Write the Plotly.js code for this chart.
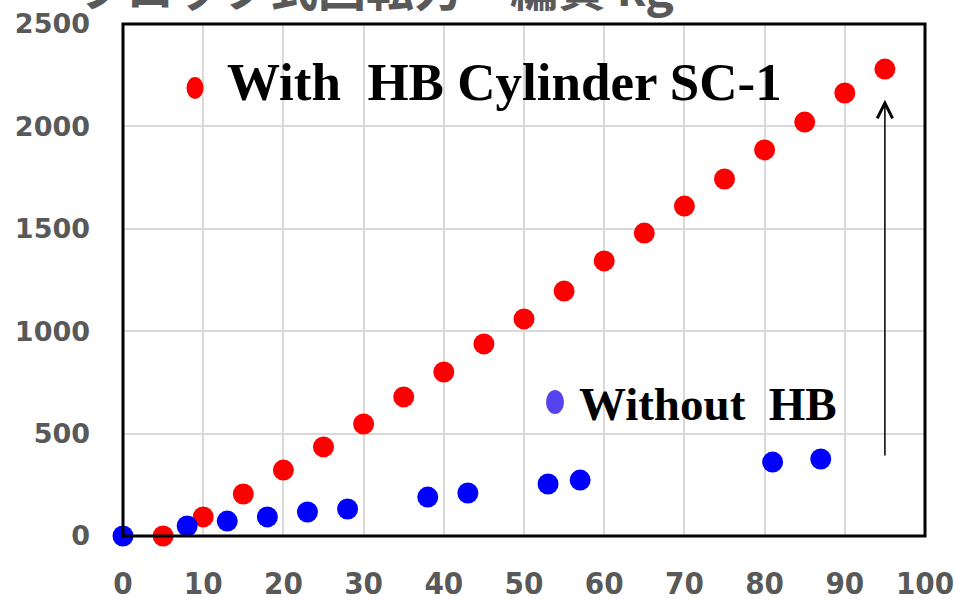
<!DOCTYPE html>
<html>
<head>
<meta charset="utf-8">
<script src="https://cdn.plot.ly/plotly-3.0.1.min.js"></script>
<style>html,body{margin:0;padding:0;background:#fff;}#chart{width:956px;height:600px;}</style>
</head>
<body>
<div id="chart"></div>
<script>
// Data
const withX = [5, 10, 15, 20, 25, 30, 35, 40, 45, 50, 55, 60, 65, 70, 75, 80, 85, 90, 95];
const withY = [0, 93, 205, 322, 435, 547, 679, 801, 938, 1060, 1196, 1343, 1479, 1611, 1743, 1885, 2021, 2163, 2280];
const withoutX = [0, 8, 13, 18, 23, 28, 38, 43, 53, 57, 81, 87];
const withoutY = [0, 49, 73, 93, 117, 132, 190, 210, 254, 273, 361, 376];
const xTicks = [0, 10, 20, 30, 40, 50, 60, 70, 80, 90, 100];
const yTicks = [0, 500, 1000, 1500, 2000, 2500];
const titleText = 'ブロック式回転力　編賀 kg';
const labelWith = 'With  HB Cylinder SC-1';
const labelWithout = 'Without  HB';

const traces = [
  {x: withX, y: withY, mode: 'markers', type: 'scatter', name: labelWith,
   marker: {color: '#ff0000', size: 21}, cliponaxis: false},
  {x: withoutX, y: withoutY, mode: 'markers', type: 'scatter', name: labelWithout,
   marker: {color: '#0000ff', size: 21}, cliponaxis: false}
];

const layout = {
  width: 956, height: 600,
  margin: {l: 123, r: 31, t: 24, b: 64},
  paper_bgcolor: '#ffffff', plot_bgcolor: '#ffffff',
  showlegend: false,
  xaxis: {
    range: [0, 100], tickvals: xTicks, ticktext: xTicks.map(String),
    showgrid: true, gridcolor: '#d9d9d9', gridwidth: 2, zeroline: false,
    showline: false, ticks: '', ticklabelstandoff: 26, ticklabeloverflow: 'allow',
    tickfont: {family: '"Liberation Sans Narrow", "DejaVu Sans Condensed", sans-serif', size: 31, color: '#595959', weight: 'bold'}
  },
  yaxis: {
    range: [0, 2500], tickvals: yTicks, ticktext: yTicks.map(String),
    showgrid: true, gridcolor: '#d9d9d9', gridwidth: 2, zeroline: false,
    showline: false, ticks: '', ticklabelstandoff: 32,
    tickfont: {family: '"DejaVu Sans", sans-serif', size: 27, color: '#595959', weight: 'bold'}
  },
  shapes: [
    {type: 'rect', xref: 'paper', yref: 'paper', x0: 0, x1: 1, y0: 0, y1: 1,
     line: {color: '#000000', width: 3}, layer: 'above'},
    {type: 'circle', xref: 'paper', yref: 'paper', x0: 0.0792, x1: 0.1004, y0: 0.8535, y1: 0.8965,
     fillcolor: '#ff0000', line: {width: 0}},
    {type: 'circle', xref: 'paper', yref: 'paper', x0: 0.5274, x1: 0.5499, y0: 0.2383, y1: 0.2852,
     fillcolor: '#5544ee', line: {width: 0}}
  ],
  annotations: [
    {xref: 'paper', yref: 'paper', x: -0.0586, y: 1.004, xanchor: 'left', yanchor: 'bottom',
     text: titleText, showarrow: false,
     font: {family: '"Noto Sans CJK JP", sans-serif', size: 48, color: '#595959', weight: 'bold'}},
    {xref: 'paper', yref: 'paper', x: 0.127, y: 0.887, xanchor: 'left', yanchor: 'middle',
     text: labelWith, showarrow: false,
     font: {family: '"Liberation Serif", "Times New Roman", serif', size: 53, color: '#000000', weight: 'bold'}},
    {xref: 'paper', yref: 'paper', x: 0.566, y: 0.258, xanchor: 'left', yanchor: 'middle',
     text: labelWithout, showarrow: false,
     font: {family: '"Liberation Serif", "Times New Roman", serif', size: 47, color: '#000000', weight: 'bold'}},
    {xref: 'x', yref: 'y', axref: 'x', ayref: 'y', x: 95, y: 2130, ax: 95, ay: 386,
     text: '', showarrow: true, arrowhead: 5, arrowsize: 2, arrowwidth: 1.5, arrowcolor: '#000000', standoff: 0}
  ]
};

Plotly.newPlot('chart', traces, layout, {displayModeBar: false, staticPlot: true});
</script>
</body>
</html>
